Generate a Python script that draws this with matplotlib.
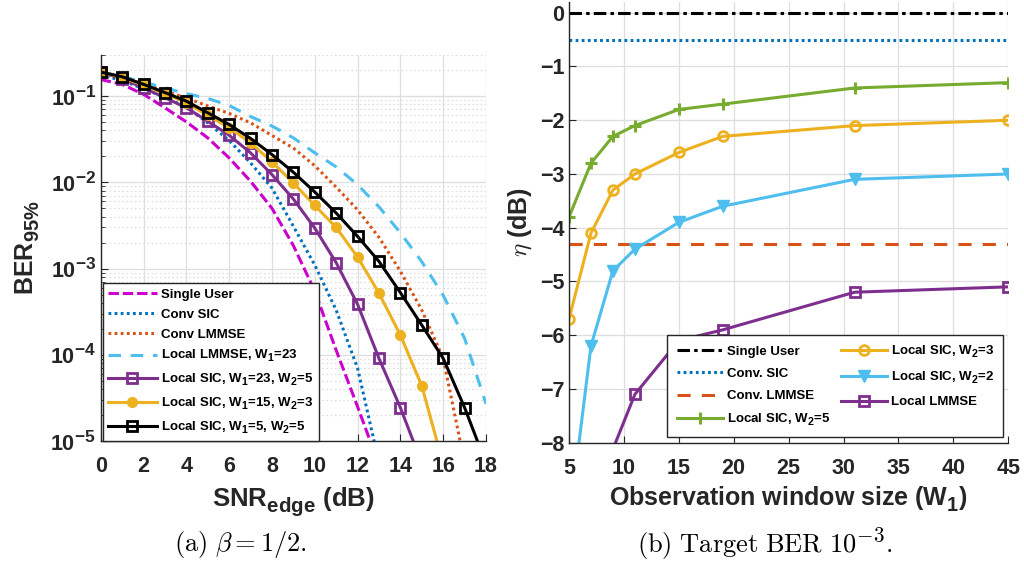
import numpy as np
import matplotlib
matplotlib.use("Agg")
import matplotlib.pyplot as plt
import matplotlib._mathtext as mathtext_internals

plt.rcParams['font.family'] = ['Liberation Sans', 'DejaVu Sans']
plt.rcParams['font.weight'] = 'bold'
plt.rcParams['mathtext.fontset'] = 'custom'
plt.rcParams['mathtext.rm'] = 'Liberation Sans:bold'
plt.rcParams['mathtext.bf'] = 'Liberation Sans:bold'
plt.rcParams['mathtext.it'] = 'Liberation Sans:bold:italic'
plt.rcParams['mathtext.default'] = 'bf'
plt.rcParams['lines.scale_dashes'] = False

# larger, lower sub/superscripts
mathtext_internals.SHRINK_FACTOR = 0.8
mathtext_internals.FontConstantsBase.sub1 = 0.45

# ---------------- (a) BER vs edge SNR ----------------
single_user = [0.156, 0.137, 0.105, 0.0733, 0.0503, 0.0328, 0.0192, 0.0103, 5.0e-3,
               1.85e-3, 5.5e-4, 1.13e-4, 2.5e-5, 5.3e-6]
conv_sic = [0.175, 0.152, 0.122, 0.097, 0.0745, 0.049, 0.0306, 0.0168, 8.6e-3,
            3.1e-3, 1.1e-3, 3.3e-4, 7.0e-5, 5.6e-6]
conv_lmmse = [0.185, 0.163, 0.138, 0.115, 0.095, 0.077, 0.063, 0.049, 0.035, 0.025,
              0.0156, 8.8e-3, 4.8e-3, 2.3e-3, 9.3e-4, 3.3e-4, 9.1e-5, 5.6e-6]
local_lmmse_23 = [0.19, 0.17, 0.145, 0.125, 0.107, 0.094, 0.078, 0.058, 0.045, 0.0328,
                  0.022, 0.0151, 9.4e-3, 5.2e-3, 2.6e-3, 1.2e-3, 4.9e-4, 1.55e-4, 2.7e-5]
local_sic_23_5 = [0.19, 0.159, 0.125, 0.0958, 0.0733, 0.0512, 0.0352, 0.0220, 0.0123,
                  6.41e-3, 2.95e-3, 1.17e-3, 3.85e-4, 9.08e-5, 2.44e-5, 5.5e-6]
local_sic_15_3 = [0.19, 0.165, 0.134, 0.107, 0.0838, 0.0597, 0.043, 0.0287, 0.0173,
                  9.84e-3, 5.4e-3, 3.0e-3, 1.36e-3, 5.18e-4, 1.69e-4, 4.37e-5, 5.4e-6]
local_sic_5_5 = [0.190, 0.168, 0.137, 0.110, 0.0875, 0.0641, 0.0469, 0.0323, 0.0210,
                 0.0131, 7.73e-3, 4.41e-3, 2.36e-3, 1.21e-3, 5.26e-4, 2.21e-4, 9.08e-5,
                 2.44e-5, 5.5e-6]
snr_ticks = [0, 2, 4, 6, 8, 10, 12, 14, 16, 18]
ber_ticks = [1e-5, 1e-4, 1e-3, 1e-2, 1e-1]
ber_ticklabels = [r'$10^{-5}$', r'$10^{-4}$', r'$10^{-3}$', r'$10^{-2}$', r'$10^{-1}$']

# ---------------- (b) eta vs observation window ----------------
w1 = [5, 7, 9, 11, 15, 19, 31, 45]
eta_sic_w2_5 = [-3.8, -2.8, -2.3, -2.1, -1.8, -1.7, -1.4, -1.3]
eta_sic_w2_3 = [-5.7, -4.1, -3.3, -3.0, -2.6, -2.3, -2.1, -2.0]
eta_sic_w2_2 = [-9.5, -6.2, -4.8, -4.4, -3.9, -3.6, -3.1, -3.0]
w1_lmmse = [9, 11, 15, 19, 31, 45]
eta_local_lmmse = [-8.12, -7.1, -6.1, -5.9, -5.2, -5.1]
eta_single_user = 0.0
eta_conv_sic = -0.5
eta_conv_lmmse = -4.3
w1_ticks = [5, 10, 15, 20, 25, 30, 35, 40, 45]
eta_ticks = [-8, -7, -6, -5, -4, -3, -2, -1, 0]

BLUE = '#0072BD'
ORANGE = '#D95319'
YELLOW = '#EDB120'
PURPLE = '#7E2F8E'
GREEN = '#77AC30'
CYAN = '#4DBEEE'
MAGENTA = '#CC00CC'
AXC = '#262626'
GRIDC = '#dedede'

fig = plt.figure(figsize=(10.24, 5.67), dpi=100)
ax1 = fig.add_axes([100.7 / 1024, 1 - 441 / 567, 385.3 / 1024, 386 / 567])
ax2 = fig.add_axes([569 / 1024, 1 - 442.7 / 567, 439.3 / 1024, 440.7 / 567])

LW = 2.2
DOT = (2.0, 2.4)


def x_of(vals):
    return np.arange(len(vals))


ax1.plot(x_of(single_user), single_user, color=MAGENTA, lw=LW, dashes=(7.5, 2.8),
         label='Single User')
ax1.plot(x_of(conv_sic), conv_sic, color=BLUE, lw=LW, dashes=DOT, label='Conv SIC')
ax1.plot(x_of(conv_lmmse), conv_lmmse, color=ORANGE, lw=LW, dashes=DOT,
         label='Conv LMMSE')
ax1.plot(x_of(local_lmmse_23), local_lmmse_23, color=CYAN, lw=LW, dashes=(9, 7),
         label=r'Local LMMSE, W$_1$=23')
ax1.plot(x_of(local_sic_23_5), local_sic_23_5, color=PURPLE, lw=LW, marker='s', ms=7,
         mfc='none', mew=2, label=r'Local SIC, W$_1$=23, W$_2$=5')
ax1.plot(x_of(local_sic_15_3), local_sic_15_3, color=YELLOW, lw=LW, marker='o', ms=7,
         mfc=YELLOW, label=r'Local SIC, W$_1$=15, W$_2$=3')
ax1.plot(x_of(local_sic_5_5), local_sic_5_5, color='black', lw=LW, marker='s', ms=7,
         mfc='none', mew=2, label=r'Local SIC, W$_1$=5, W$_2$=5')

ax1.set_yscale('log')
ax1.set_xlim(0, 18)
ax1.set_ylim(1e-5, 0.3)
ax1.set_xticks(snr_ticks)
ax1.set_yticks(ber_ticks)
ax1.set_yticklabels(ber_ticklabels)
ax1.grid(True, which='major', color=GRIDC, lw=0.9)
ax1.grid(True, which='minor', axis='y', color=GRIDC, ls=(0, (1.2, 1.8)), lw=0.9)
ax1.set_axisbelow(True)
ax1.set_xlabel(r'SNR$_{edge}$ (dB)', fontsize=18.5, fontweight='bold', color=AXC,
               labelpad=6)
ax1.set_ylabel(r'BER$_{95\%}$', fontsize=18, fontweight='bold', color=AXC, labelpad=6)

leg1 = ax1.legend(loc='lower left', bbox_to_anchor=(0.005, 0.0), borderaxespad=0,
                  prop={'family': 'Liberation Sans', 'weight': 'bold', 'size': 9.5},
                  handlelength=3.7, fancybox=False, framealpha=1, edgecolor=AXC,
                  labelspacing=0.58, borderpad=0.4, handletextpad=0.35)
leg1.get_frame().set_linewidth(1.0)

# ---- right panel ----
ax2.axhline(eta_single_user, color='black', lw=LW, dashes=(9, 3, 2.5, 3),
            label='Single User')
ax2.axhline(eta_conv_sic, color=BLUE, lw=LW, dashes=DOT, label='Conv. SIC')
ax2.axhline(eta_conv_lmmse, color=ORANGE, lw=LW, dashes=(9.5, 8), label='Conv. LMMSE')
ax2.plot(w1, eta_sic_w2_5, color=GREEN, lw=LW, marker='+', ms=9, mew=2.2,
         label=r'Local SIC, W$_2$=5')
ax2.plot(w1, eta_sic_w2_3, color=YELLOW, lw=LW, marker='o', ms=7, mfc='none', mew=2,
         label=r'Local SIC, W$_2$=3')
ax2.plot(w1, eta_sic_w2_2, color=CYAN, lw=LW, marker='v', ms=8, mfc=CYAN,
         label=r'Local SIC, W$_2$=2')
ax2.plot(w1_lmmse, eta_local_lmmse, color=PURPLE, lw=LW, marker='s', ms=7, mfc='none',
         mew=2, label='Local LMMSE')

ax2.set_xlim(5, 45)
ax2.set_ylim(-8, 0.2)
ax2.set_xticks(w1_ticks)
ax2.set_yticks(eta_ticks)
ax2.grid(True, which='major', color=GRIDC, lw=0.9)
ax2.set_axisbelow(True)
ax2.set_xlabel(r'Observation window size (W$_1$)', fontsize=18, fontweight='bold',
               color=AXC, labelpad=4)
ax2.set_ylabel(r'$\eta$ (dB)', fontsize=18, fontweight='bold', color=AXC,
               math_fontfamily='cm', labelpad=4)

leg2 = ax2.legend(loc='lower right', bbox_to_anchor=(0.989, 0.012), borderaxespad=0,
                  ncol=2, prop={'family': 'Liberation Sans', 'weight': 'bold', 'size': 9.5},
                  handlelength=3.5, fancybox=False, framealpha=1, edgecolor=AXC,
                  labelspacing=0.75, borderpad=0.7, handletextpad=0.3,
                  columnspacing=0.8)
leg2.get_frame().set_linewidth(1.0)

for ax in (ax1, ax2):
    for s in ('top', 'right'):
        ax.spines[s].set_visible(False)
    for s in ('left', 'bottom'):
        ax.spines[s].set_color(AXC)
        ax.spines[s].set_linewidth(1.0)
    ax.tick_params(which='both', direction='in', color=AXC, labelcolor=AXC,
                   labelsize=15.5, top=False, right=False)
    ax.tick_params(which='major', length=5)
    ax.tick_params(which='minor', length=3)
    ax.tick_params(axis='x', pad=11)
    for lab in ax.get_xticklabels() + ax.get_yticklabels():
        lab.set_fontweight('bold')

fig.text(240 / 1024, 1 - 544 / 567, r'$\mathrm{(a)}\ \beta = 1/2.$', fontsize=19,
         ha='center', va='center', math_fontfamily='cm', color='black')
fig.text(765 / 1024, 1 - 544 / 567, r'$\mathrm{(b)\ Target\ BER\ }10^{-3}\mathrm{.}$',
         fontsize=19, ha='center', va='center', math_fontfamily='cm', color='black')

fig.savefig('out.png', dpi=100)
